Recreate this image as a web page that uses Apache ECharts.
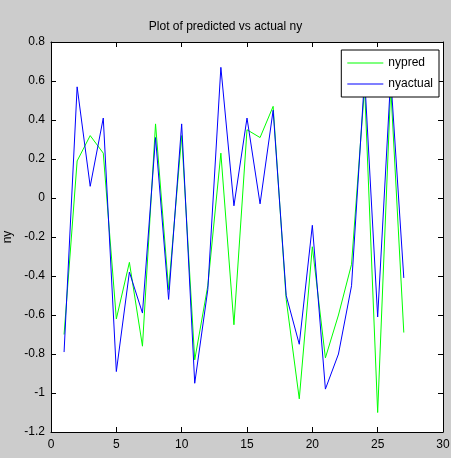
<!DOCTYPE html>
<html>
<head>
<meta charset="utf-8">
<script src="https://cdn.jsdelivr.net/npm/echarts@6/dist/echarts.min.js"></script>
<style>
html,body{margin:0;padding:0;background:#cccccc;}
#chart{width:451px;height:458px;}
</style>
</head>
<body>
<div id="chart"></div>
<script>
var samples = [1,2,3,4,5,6,7,8,9,10,11,12,13,14,15,16,17,18,19,20,21,22,23,24,25,26,27];
var nypred = [-0.70,0.19,0.32,0.23,-0.62,-0.33,-0.76,0.38,-0.47,0.32,-0.83,-0.45,0.23,-0.65,0.35,0.31,0.47,-0.52,-1.03,-0.25,-0.82,-0.60,-0.34,0.57,-1.10,0.57,-0.69];
var nyactual = [-0.79,0.57,0.06,0.41,-0.89,-0.38,-0.59,0.31,-0.52,0.38,-0.95,-0.47,0.67,-0.04,0.41,-0.03,0.45,-0.50,-0.75,-0.14,-0.98,-0.80,-0.45,0.62,-0.61,0.62,-0.41];
var xTicks = {min:0, max:30, interval:5};
var yTicks = {min:-1.2, max:0.8, interval:0.2};

function pairs(ys){ return samples.map(function(x,i){ return [x, ys[i]]; }); }

var font = "'Liberation Sans', Arial, Helvetica, sans-serif";
var axisLine = {show:true, onZero:false, lineStyle:{color:'#000', width:1}};
var tick = {show:true, inside:true, length:5, lineStyle:{color:'#000'}};

var chart = echarts.init(document.getElementById('chart'), null, {renderer:'canvas'});
chart.setOption({
  backgroundColor:'#cccccc',
  animation:false,
  textStyle:{fontFamily:font},
  title:{
    text:'Plot of predicted vs actual ny',
    left:'center', top:16,
    textStyle:{fontFamily:font, fontSize:12, fontWeight:'normal', color:'#000'}
  },
  grid:{left:51, right:8, top:42, bottom:26, containLabel:false, outerBoundsMode:'none',
        show:true, backgroundColor:'#ffffff', borderWidth:0},
  legend:{
    orient:'vertical', right:12, top:50,
    backgroundColor:'#ffffff', borderColor:'#000', borderWidth:1, borderRadius:0,
    padding:[6,6,6,6], itemGap:7, itemWidth:36, itemHeight:14,
    icon:'path://M0,6.5H36V7.5H0Z',
    textStyle:{fontFamily:font, fontSize:12, color:'#000', lineHeight:14},
    data:['nypred','nyactual']
  },
  xAxis:[
    {type:'value', min:xTicks.min, max:xTicks.max, interval:xTicks.interval, position:'bottom',
     axisLine:axisLine, axisTick:tick, splitLine:{show:false},
     axisLabel:{color:'#000', fontSize:12, fontFamily:font, margin:7}},
    {type:'value', min:xTicks.min, max:xTicks.max, interval:xTicks.interval, position:'top',
     axisLine:axisLine, axisTick:tick, splitLine:{show:false}, axisLabel:{show:false}}
  ],
  yAxis:[
    {type:'value', min:yTicks.min, max:yTicks.max, interval:yTicks.interval, position:'left',
     name:'ny', nameLocation:'middle', nameGap:33, nameRotate:90,
     nameTextStyle:{color:'#000', fontSize:12, fontFamily:font},
     axisLine:axisLine, axisTick:tick, splitLine:{show:false},
     axisLabel:{color:'#000', fontSize:12, fontFamily:font, margin:6}},
    {type:'value', min:yTicks.min, max:yTicks.max, interval:yTicks.interval, position:'right',
     axisLine:axisLine, axisTick:tick, splitLine:{show:false}, axisLabel:{show:false}}
  ],
  series:[
    {name:'nypred', type:'line', data:pairs(nypred), symbol:'none', showSymbol:false,
     lineStyle:{color:'#00ff00', width:1}, itemStyle:{color:'#00ff00'}, z:2},
    {name:'nyactual', type:'line', data:pairs(nyactual), symbol:'none', showSymbol:false,
     lineStyle:{color:'#0000ff', width:1}, itemStyle:{color:'#0000ff'}, z:3}
  ]
});
</script>
</body>
</html>
